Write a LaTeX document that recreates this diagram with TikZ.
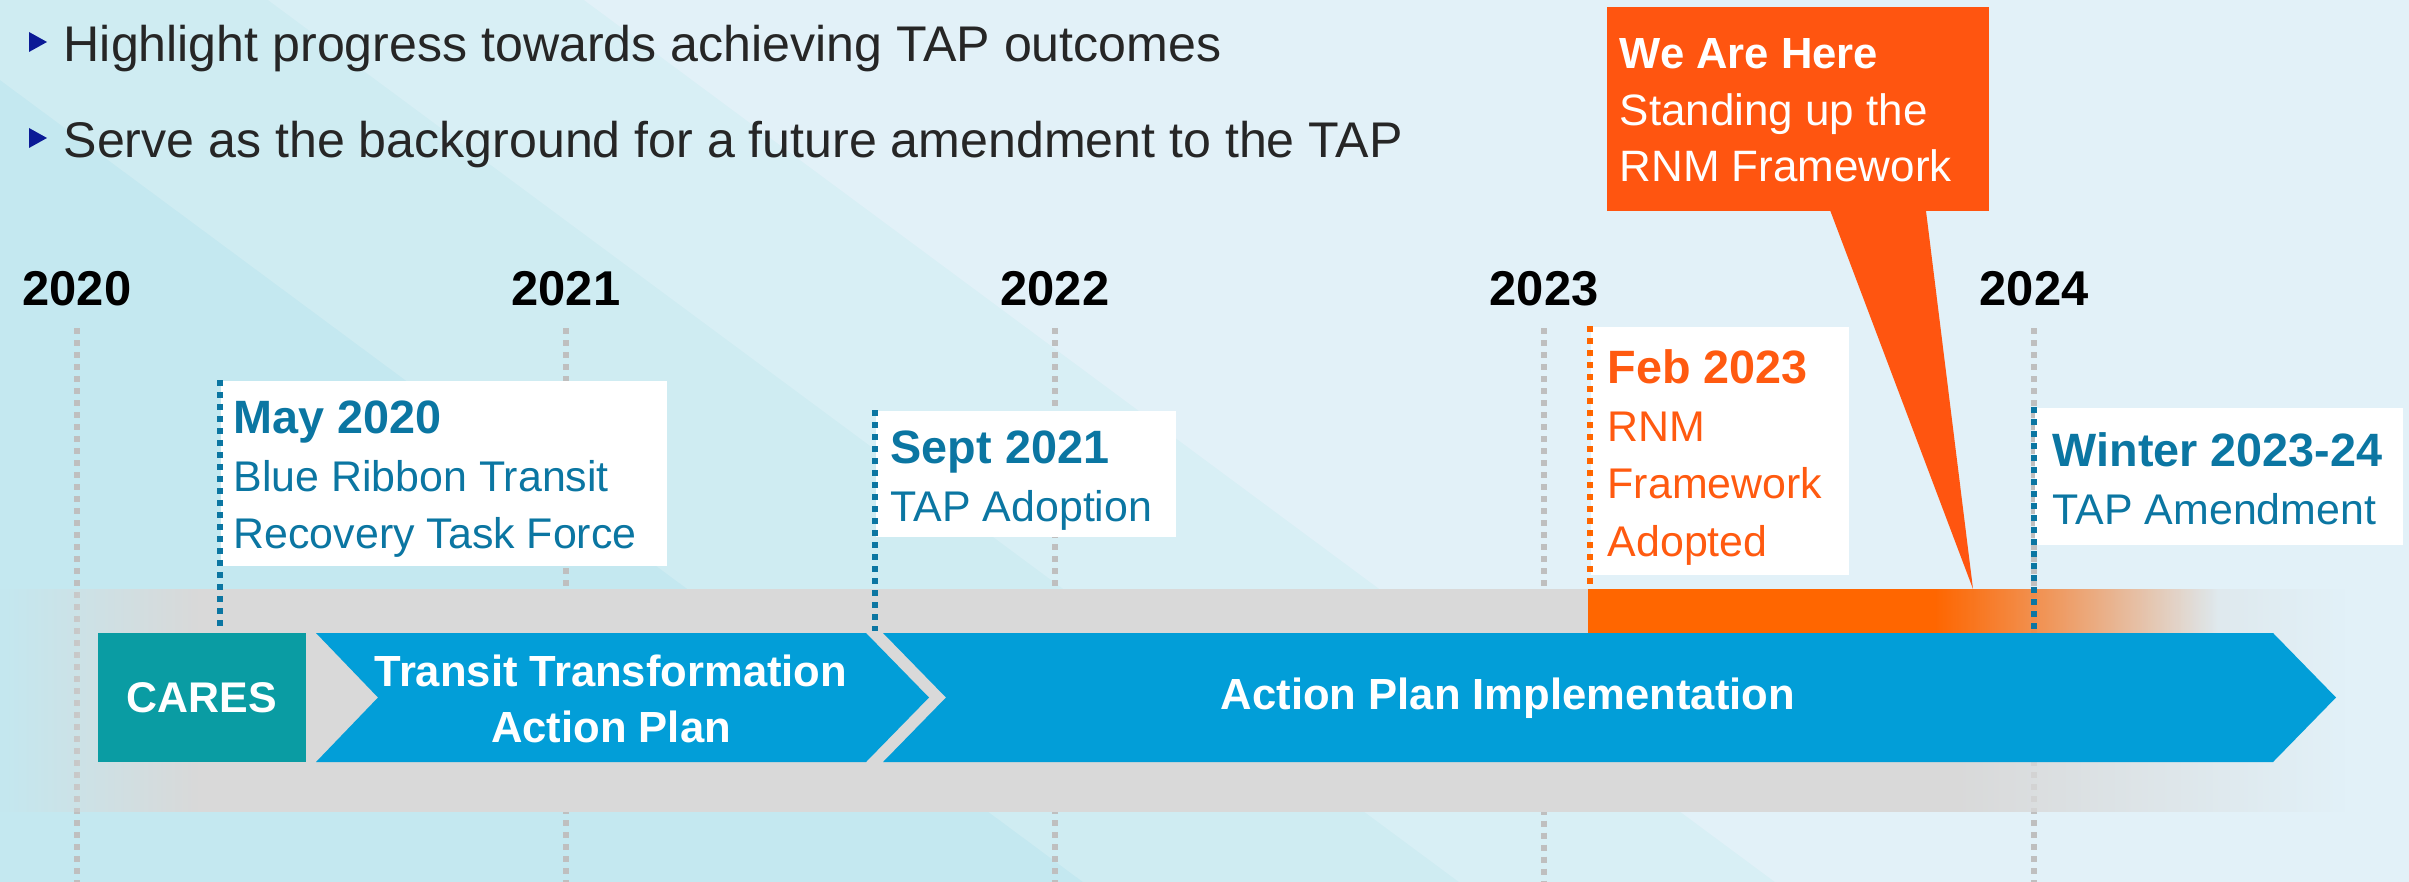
\documentclass[tikz,border=0pt]{standalone}
\usepackage{fontspec}
\setmainfont{Liberation Sans}
\usetikzlibrary{fadings}
\definecolor{bgA}{HTML}{C4E8F0}
\definecolor{bgB}{HTML}{CFECF2}
\definecolor{bgC}{HTML}{D8EFF5}
\definecolor{bgD}{HTML}{E2F1F8}
\definecolor{bandgray}{HTML}{D9D9D9}
\definecolor{gridgray}{HTML}{BFBFBF}
\definecolor{chevblue}{HTML}{029ED8}
\definecolor{caresteal}{HTML}{0A9CA3}
\definecolor{evblue}{HTML}{0B76A2}
\definecolor{evorange}{HTML}{FF5A10}
\definecolor{hereorange}{HTML}{FF5510}
\definecolor{barorange}{HTML}{FF6600}
\definecolor{bulletnavy}{HTML}{0B1A96}
\definecolor{bodytext}{HTML}{262626}
\tikzfading[name=fadein, left color=transparent!100, right color=transparent!0]
\tikzfading[name=fadeout, left color=transparent!0, right color=transparent!100]
\newcommand{\evhead}[1]{{\fontsize{13.3}{16.4}\selectfont\bfseries #1}}

\begin{document}
\begin{tikzpicture}[x=0.01cm,y=-0.01cm,
  every node/.style={inner sep=0pt},
  bullettext/.style={anchor=base west,text=bodytext,font=\fontsize{14.25}{17}\selectfont},
  yearlbl/.style={anchor=base,font=\fontsize{13.9}{16}\selectfont\bfseries},
  gridln/.style={gridgray,line width=0.06cm,dash pattern=on 0.06cm off 0.06cm},
  evbox/.style={fill=white,anchor=north west},
  evtext/.style={anchor=north west,align=left,font=\fontsize{12.2}{16.4}\selectfont},
  evline/.style={line width=0.06cm,dash pattern=on 0.06cm off 0.06cm,shorten >=0.02cm},
  chevtext/.style={text=white,align=center,font=\fontsize{12.4}{15.9}\selectfont\bfseries},
  heretext/.style={anchor=north west,align=left,text=white,font=\fontsize{12.5}{16.1}\selectfont}]
\useasboundingbox (0,0) rectangle (2409,882);
\clip (0,0) rectangle (2409,882);
\fill[bgA] (0,0) rectangle (2409,882);
\fill[bgB] (-108,0) -- (2409,0) -- (2409,882) -- (1083,882) -- cycle;
\fill[bgC] (268,0) -- (2409,0) -- (2409,882) -- (1459,882) -- cycle;
\fill[bgD] (584,0) -- (2409,0) -- (2409,882) -- (1775,882) -- cycle;
\coordinate (bottom) at (0,882);
\coordinate (bartop) at (0,589);
\coordinate (chevtop) at (0,633);
\coordinate (now) at (1973,589);

\fill[bulletnavy] (29,32) -- (47,42) -- (29,52) -- cycle;
\node[bullettext] (highlight) at (63,62) {Highlight progress towards achieving TAP outcomes};
\fill[bulletnavy] (29,128) -- (47,138) -- (29,148) -- cycle;
\node[bullettext] (serve) at (63,158) {Serve as the background for a future amendment to the TAP};

\foreach \yr/\xx in {2020/77,2021/566,2022/1055,2023/1544,2024/2034} {
  \node[yearlbl] (y\yr) at (\xx,305) {\yr};
  \draw[gridln] ([yshift=-0.22cm]y\yr.south) -- (y\yr |- bottom);
}

\fill[bandgray,path fading=fadein] (0,589) rectangle (200,812);
\fill[bandgray] (198,589) rectangle (1952,812);
\fill[bandgray,path fading=fadeout] (1950,589) rectangle (2345,812);
\fill[barorange] (1588,589) rectangle (1936,634);
\fill[barorange,path fading=fadeout] (1934,589) rectangle (2217,634);

\node[fill=caresteal,minimum width=2.08cm,minimum height=1.29cm,font=\fontsize{12.2}{15}\selectfont\bfseries,text=white] (cares) at (202,697.5) {CARES};
\fill[chevblue] (316,633) -- (866,633) -- (929,697.5) -- (866,762) -- (316,762) -- (378,697.5) -- cycle;
\node[chevtext] (ttap) at (611,699) {Transit Transformation\\Action Plan};
\fill[chevblue] (883,633) -- (2273,633) -- (2336,697.5) -- (2273,762) -- (883,762) -- (946,697.5) -- cycle;
\node[chevtext,anchor=base] (apimpl) at (1508,709.5) {Action Plan Implementation};

\node[evbox,minimum width=4.46cm,minimum height=1.85cm] (may) at (220,380) {};
\node[evtext,text=evblue] (maytxt) at ([shift={(13,20)}]may.north west) {\evhead{May 2020}\\Blue Ribbon Transit\\Recovery Task Force};
\draw[evline,evblue] (may.north west) -- (may.north west |- chevtop);

\node[evbox,minimum width=3.00cm,minimum height=1.26cm] (sept) at (875,410) {};
\node[evtext,text=evblue] (septtxt) at ([shift={(15,20)}]sept.north west) {\evhead{Sept 2021}\\TAP Adoption};
\draw[evline,evblue] (sept.north west) -- (sept.north west |- chevtop);

\node[evbox,minimum width=2.58cm,minimum height=2.48cm] (feb) at (1590,326) {};
\node[evtext,text=evorange] (febtxt) at ([shift={(17,23)}]feb.north west) {\evhead{Feb 2023}\\RNM\\Framework\\Adopted};
\draw[evline,barorange] (feb.north west) -- (feb.north west |- bartop);

\node[evbox,minimum width=3.68cm,minimum height=1.37cm] (winter) at (2034,407) {};
\node[evtext,text=evblue] (wintertxt) at ([shift={(18,25)}]winter.north west) {\evhead{Winter 2023-24}\\TAP Amendment};
\draw[evline,evblue] (winter.north west) -- (winter.north west |- chevtop);

\node[fill=hereorange,anchor=north west,minimum width=3.82cm,minimum height=2.04cm] (here) at (1606,6) {};
\fill[hereorange] ([shift={(32,-2)}]here.south) -- (now) -- ([shift={(128,-2)}]here.south) -- cycle;
\node[heretext] (heretxt) at ([shift={(13,32)}]here.north west) {{\fontsize{12.4}{16.1}\selectfont\bfseries We Are Here}\\Standing up the\\RNM Framework};
\end{tikzpicture}
\end{document}
